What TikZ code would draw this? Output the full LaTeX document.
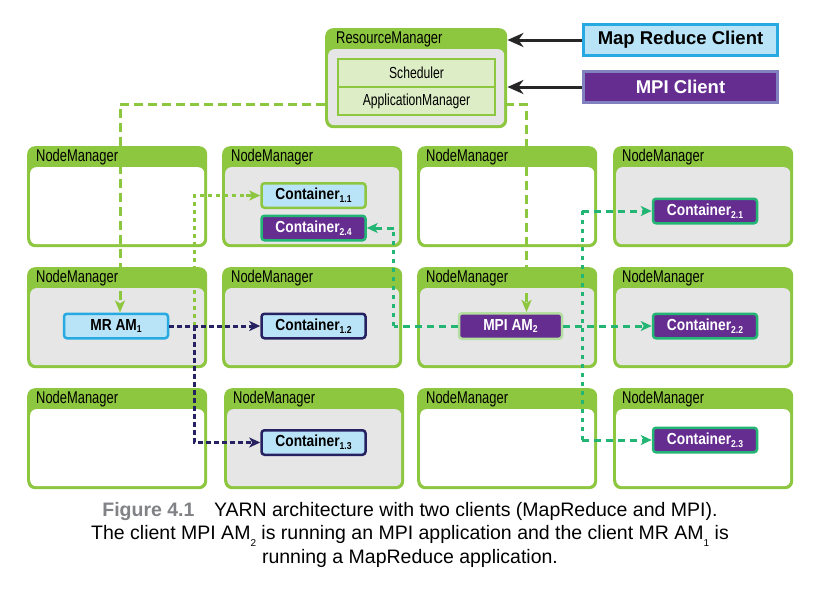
\documentclass[tikz,border=0pt]{standalone}
\usepackage{fontspec}
\setmainfont{Liberation Sans}
\newfontfamily\condf[FakeStretch=0.76]{Liberation Sans}
\newfontfamily\condb[FakeStretch=0.86]{Liberation Sans Bold}
\newfontfamily\capf{Liberation Sans}
\newfontfamily\capb{Liberation Sans Bold}
\newfontfamily\clientf{Liberation Sans Bold}
\usetikzlibrary{arrows.meta,calc}
\definecolor{nmgreen}{RGB}{141,198,63}
\definecolor{bodygray}{RGB}{230,230,230}
\definecolor{schedgreen}{RGB}{221,237,197}
\definecolor{lblue}{RGB}{185,227,246}
\definecolor{cblue}{RGB}{39,170,225}
\definecolor{mpurple}{RGB}{102,45,145}
\definecolor{lavender}{RGB}{129,129,192}
\definecolor{teal}{RGB}{35,181,115}
\definecolor{navy}{RGB}{38,34,98}
\definecolor{palegreen}{RGB}{181,223,160}
\definecolor{capgray}{RGB}{128,130,133}
\newcommand\subx[1]{\raisebox{-0.35ex}{\fontsize{10}{10}\selectfont #1}}
\tikzset{
  nmframe/.style={fill=nmgreen, rounded corners=8pt, minimum width=180pt, minimum height=101pt, inner sep=0pt, draw=none},
  nmbody/.style={fill=#1, rounded corners=6pt, minimum width=174pt, minimum height=77pt, inner sep=0pt, draw=none},
  nmlabel/.style={font=\condf\fontsize{17}{17}\selectfont, inner sep=0pt, text=black},
  cont/.style={rounded corners=3pt, line width=2.5pt, minimum width=104pt, minimum height=24.5pt, inner sep=0pt, font=\condb\fontsize{16}{16}\selectfont},
  contblue/.style={cont, fill=lblue, text=black},
  contpurple/.style={cont, fill=mpurple, text=white},
  rmsub/.style={draw=nmgreen, line width=2pt, fill=schedgreen, minimum width=157pt, minimum height=28pt, inner sep=0pt, font=\condf\fontsize{16}{16}\selectfont},
  client/.style={line width=3pt, minimum width=194pt, minimum height=31pt, inner sep=0pt, font=\clientf\fontsize{18.5}{18.5}\selectfont},
  carrow/.style={line width=3pt, draw=black!85, -{Stealth[length=16pt,width=14pt,inset=5pt]}},
  gdash/.style={line width=3pt, draw=nmgreen, dash pattern=on 9pt off 5pt, -{Stealth[length=12pt,width=10pt,inset=3pt]}},
  gdot/.style={line width=3pt, draw=nmgreen, dash pattern=on 4pt off 4pt},
  ndot/.style={line width=3pt, draw=navy, dash pattern=on 5pt off 3pt},
  tdash/.style={line width=3pt, draw=teal, dash pattern=on 7pt off 5pt},
  tdot/.style={line width=3pt, draw=teal, dash pattern=on 4pt off 5pt},
  tip/.style={-{Stealth[length=11pt,width=10pt,inset=3pt]}},
}
\newcommand\nmbox[4]{%
  \node[nmframe, anchor=north west] (#1) at (#2,#3) {};
  \node[nmbody=#4, anchor=north west] (#1b) at ($(#1.north west)+(3,21)$) {};
  \node[nmlabel, anchor=west] (#1t) at ($(#1.north west)+(9,11)$) {NodeManager};
}
\begin{document}
\begin{tikzpicture}[x=1pt,y=-1pt]
\useasboundingbox (0,0) rectangle (824,589);
\fill[white] (0,0) rectangle (824,589);
% ResourceManager
\node[nmframe, minimum width=182pt, minimum height=100pt, anchor=north west] (rm) at (325,28) {};
\node[nmbody=bodygray, minimum width=176pt, minimum height=76pt, anchor=north west] (rmb) at (328,49) {};
\node[nmlabel, anchor=west] (rmt) at (336,39) {ResourceManager};
\node[rmsub] (sch) at (416.5,73) {Scheduler};
\node[rmsub] (am) at (416.5,101) {ApplicationManager};
% clients
\node[client, draw=cblue, fill=lblue, text=black] (mrc) at (680.5,40) {Map Reduce Client};
\node[client, draw=lavender, fill=mpurple, text=white] (mpic) at (680.5,87) {MPI Client};
\draw[carrow] (mrc.west) -- (mrc.west -| rm.east);
\draw[carrow] (mpic.west) -- (mpic.west -| rm.east);
% NodeManagers
\nmbox{n11}{27}{146}{white}
\nmbox{n12}{222}{146}{bodygray}
\nmbox{n13}{417}{146}{white}
\nmbox{n14}{613}{146}{bodygray}
\nmbox{n21}{27}{267}{bodygray}
\nmbox{n22}{222}{267}{bodygray}
\nmbox{n23}{417}{267}{bodygray}
\nmbox{n24}{613}{267}{bodygray}
\nmbox{n31}{27}{388}{white}
\nmbox{n32}{224}{388}{bodygray}
\nmbox{n33}{417}{388}{white}
\nmbox{n34}{613}{388}{white}
% containers
\node[contblue, draw=nmgreen] (c11) at (313.5,195.5) {Container\subx{1.1}};
\node[contpurple, draw=teal] (c24) at (313.5,228) {Container\subx{2.4}};
\node[contpurple, draw=teal] (c21) at (705,211) {Container\subx{2.1}};
\node[contblue, draw=cblue] (mram) at (116,326) {MR AM\subx{1}};
\node[contblue, draw=navy] (c12) at (313.5,326) {Container\subx{1.2}};
\node[contblue, draw=navy] (c13) at (313.5,442.5) {Container\subx{1.3}};
\node[contpurple, draw=palegreen, minimum width=103pt, minimum height=25.5pt] (mpiam) at (510.5,326) {MPI AM\subx{2}};
\node[contpurple, draw=teal] (c22) at (705,326) {Container\subx{2.2}};
\node[contpurple, draw=teal] (c23) at (705,440) {Container\subx{2.3}};
% junctions
\coordinate (j1) at ($(mram.east)+(25,0)$);
\coordinate (j2) at ($(mpiam.west)+(-64,0)$);
\coordinate (j3) at ($(mpiam.east)+(19,0)$);
\coordinate (rmL) at ($(rm.west |- am.center)+(0,3)$);
\coordinate (rmR) at ($(rm.east |- am.center)+(-2,3)$);
\coordinate (mramtop) at ($(mram.north)+(4,0)$);
\coordinate (mpiamtop) at ($(mpiam.north)+(16,0)$);
% green dashed from RM
\draw[gdash] (rmL) -| (mramtop);
\draw[gdash] (rmR) -| (mpiamtop);
% MR AM connectors
\draw[gdot] (j1) |- ($(c11.west)+(-12,0)$);
\draw[gdot, dash pattern=on 6pt off 4pt, tip] ($(c11.west)+(-14,0)$) -- (c11.west);
\draw[ndot, tip] (mram.east) -- (c12.west);
\draw[ndot, tip] (j1) |- (c13.west);
% MPI AM connectors
\draw[tdash] (mpiam.west) -- (j2);
\draw[tdot] (j2) -- (j2 |- c24.east);
\draw[tdash, tip] (j2 |- c24.east) -- (c24.east);
\draw[tdash, tip] (mpiam.east) -- (c22.west);
\draw[tdot] (j3 |- c21.west) -- (j3 |- c23.west);
\draw[tdash, tip] (j3 |- c21.west) -- (c21.west);
\draw[tdash, tip] (j3 |- c23.west) -- (c23.west);
% caption
\node[align=center, inner sep=0pt, font=\capf\fontsize{19.5}{23.5}\selectfont, anchor=north] (cap) at (410,502)
 {{\capb\color{capgray}Figure 4.1}\quad YARN architecture with two clients (MapReduce and MPI).\\
  The client MPI AM\raisebox{-0.6ex}{\fontsize{10}{10}\selectfont 2} is running an MPI application and the client MR AM\raisebox{-0.6ex}{\fontsize{10}{10}\selectfont 1} is\\
  running a MapReduce application.};
\end{tikzpicture}
\end{document}
